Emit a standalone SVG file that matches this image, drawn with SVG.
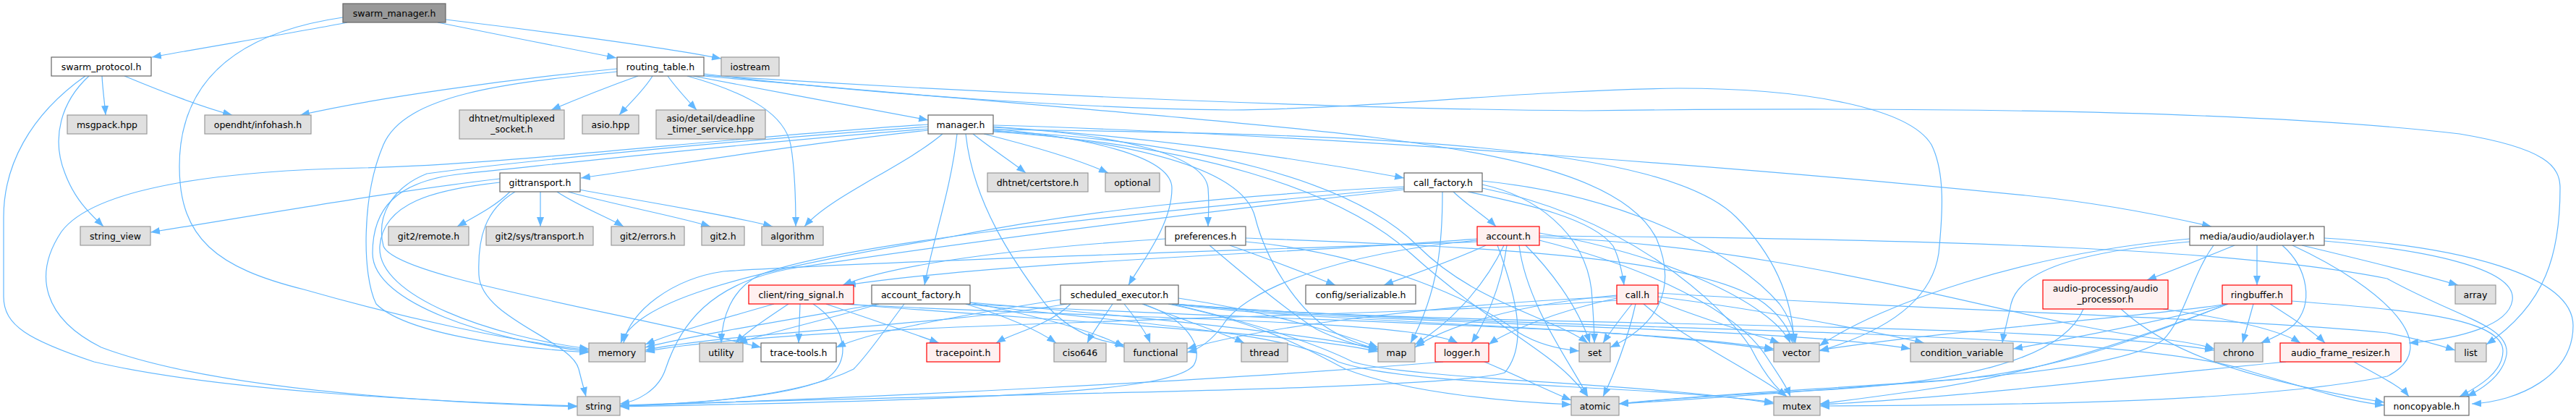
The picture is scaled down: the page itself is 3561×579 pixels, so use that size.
<svg xmlns="http://www.w3.org/2000/svg" width="3561" height="579" viewBox="0 0 3561 579">
<style>
.g rect{fill:#e0e0e0;stroke:#999999;stroke-width:1.2}
.w rect{fill:#ffffff;stroke:#666666;stroke-width:1.2}
.r rect{fill:#fff0f0;stroke:#ff0000;stroke-width:1.2}
.root rect{fill:#999999;stroke:#666666;stroke-width:1.2}
text{font-family:"DejaVu Sans","Liberation Sans",sans-serif;font-size:12.5px;text-anchor:middle;fill:#000000}
#edges path{fill:none;stroke:#63b8ff;stroke-width:1.2;marker-end:url(#ah)}
</style>
<defs>
<marker id="ah" markerWidth="13" markerHeight="10" refX="13" refY="5" orient="auto" markerUnits="userSpaceOnUse"><path d="M0,0 L13,5 L0,10 z" fill="#63b8ff"/></marker>
</defs>
<rect x="0" y="0" width="3561" height="579" fill="#ffffff"/>
<g id="edges">
<path d="M480,31 C420,43 280,66 210,79"/>
<path d="M605,31 C660,42 790,68 852,80"/>
<path d="M616,27 C700,37 900,62 997,81"/>
<path d="M474,24 C330,45 248,110 248,230 C248,330 300,370 420,400 C560,440 700,470 814,484"/>
<path d="M141,105 C142,125 145,145 146,159"/>
<path d="M172,105 C220,125 280,148 321,159"/>
<path d="M123,105 C85,140 70,190 90,240 C105,280 130,300 143,313"/>
<path d="M118,105 C40,160 5,230 5,300 L5,410 C5,450 40,470 130,500 C300,540 600,555 798,561"/>
<path d="M882,105 C840,120 795,138 762,152"/>
<path d="M902,105 C890,125 868,145 856,159"/>
<path d="M923,105 C935,122 950,138 963,152"/>
<path d="M853,95 C700,110 520,135 415,159"/>
<path d="M853,99 C700,115 560,130 530,200 C500,270 500,380 520,420 C560,460 700,480 814,487"/>
<path d="M958,105 C1060,125 1200,150 1283,166"/>
<path d="M950,105 C1040,130 1085,160 1093,200 C1100,240 1100,290 1100,313"/>
<path d="M973,102 C1200,130 1500,150 1700,152 C1900,150 2100,125 2320,122 C2500,122 2640,150 2670,200 C2690,240 2685,300 2680,350 C2670,420 2600,460 2515,485"/>
<path d="M973,104 C1300,125 1800,150 2190,153 C2600,148 3100,150 3400,185 C3520,205 3539,230 3539,260 C3539,350 3520,420 3437,476"/>
<path d="M973,105 C1300,135 1700,165 1900,190 C2100,215 2250,250 2290,330 C2320,400 2290,450 2226,480"/>
<path d="M1283,180 C1100,200 950,225 803,246"/>
<path d="M1323,185 C1315,260 1290,330 1278,394"/>
<path d="M1303,185 C1250,230 1150,270 1112,313"/>
<path d="M1345,185 C1370,205 1400,225 1418,239"/>
<path d="M1360,185 C1420,200 1490,220 1532,239"/>
<path d="M1373,178 C1500,190 1620,215 1620,260 C1620,310 1580,360 1560,394"/>
<path d="M1373,176 C1550,185 1665,215 1670,260 C1672,285 1670,300 1670,313"/>
<path d="M1373,180 C1600,200 1720,240 1735,300 C1750,360 1790,420 1830,450 C1860,470 1885,478 1905,482"/>
<path d="M1373,175 C1600,190 1800,220 1941,246"/>
<path d="M1373,173 C1800,185 2400,230 2800,270 C2900,280 3000,300 3057,313"/>
<path d="M1335,185 C1345,280 1400,360 1445,420 C1480,460 1520,472 1555,477"/>
<path d="M1373,182 C1650,200 1850,260 1950,350 C2050,440 2130,480 2170,520 C2185,535 2190,542 2195,548"/>
<path d="M1373,181 C1660,195 1870,250 1960,340 C2040,420 2150,440 2195,474"/>
<path d="M1373,179 C1900,185 2300,200 2400,300 C2460,360 2478,420 2480,474"/>
<path d="M1283,175 C1000,195 700,225 590,240 C540,260 520,300 530,340 C545,380 800,420 1052,480"/>
<path d="M1283,172 C1000,190 700,228 500,232 C300,236 130,260 85,320 C45,380 60,440 140,480 C300,540 600,556 798,562"/>
<path d="M1283,178 C1000,200 760,228 640,240 C545,250 515,290 515,350 C515,420 680,470 814,486"/>
<path d="M705,265 C685,285 655,300 632,313"/>
<path d="M747,265 L747,313"/>
<path d="M770,265 C800,285 840,300 862,313"/>
<path d="M785,265 C850,283 940,300 982,313"/>
<path d="M800,262 C900,280 1010,298 1068,313"/>
<path d="M691,247 C560,262 400,290 208,321"/>
<path d="M691,252 C600,262 530,280 525,340 C520,410 680,465 814,482"/>
<path d="M712,265 C670,290 660,330 662,380 C665,440 790,470 800,510 C805,530 808,540 810,548"/>
<path d="M2029,265 C2100,280 2200,300 2230,340 C2240,360 2243,380 2245,394"/>
<path d="M2009,265 C2030,285 2055,300 2068,313"/>
<path d="M1994,265 C1994,330 1990,400 1950,474"/>
<path d="M1941,258 C1700,270 1500,290 1300,330 C1000,380 880,420 858,474"/>
<path d="M1941,262 C1600,300 1300,340 1100,370 C980,390 940,450 920,510 C910,540 880,555 857,558"/>
<path d="M1941,260 C1500,300 1150,340 1050,380 C1010,400 998,440 997,474"/>
<path d="M2049,255 C2120,270 2190,320 2200,400 C2203,440 2204,460 2204,474"/>
<path d="M2049,250 C2250,270 2400,350 2460,420 C2475,440 2480,460 2482,474"/>
<path d="M2049,260 C2250,300 2380,420 2420,480 C2440,520 2460,540 2470,548"/>
<path d="M1700,339 C1760,360 1810,380 1846,394"/>
<path d="M1611,330 C1450,340 1250,360 1165,394"/>
<path d="M1672,339 C1720,380 1780,430 1820,455 C1850,470 1880,478 1905,484"/>
<path d="M1722,334 C1900,350 2050,420 2100,460 C2130,478 2160,483 2183,485"/>
<path d="M1722,329 C2000,340 2350,350 2440,420 C2465,440 2475,460 2478,474"/>
<path d="M1538,420 C1525,440 1510,460 1503,474"/>
<path d="M1554,420 C1570,440 1585,460 1590,474"/>
<path d="M1579,420 C1630,440 1690,460 1720,474"/>
<path d="M1629,412 C1750,430 1850,460 1905,480"/>
<path d="M1620,420 C1800,445 2250,450 2452,484"/>
<path d="M1620,420 C1750,450 1830,480 1870,500 C1950,525 2300,530 2452,558"/>
<path d="M1625,420 C1900,450 2450,450 2641,482"/>
<path d="M1625,420 C2000,455 2800,440 3061,484"/>
<path d="M1615,420 C1760,450 1820,490 1860,510 C1950,545 2100,556 2172,559"/>
<path d="M1625,420 C2100,460 2900,450 3100,510 C3200,540 3250,555 3296,560"/>
<path d="M1475,420 C1300,450 1000,460 892,484"/>
<path d="M1580,420 C1640,440 1665,480 1650,505 C1620,540 1400,552 857,562"/>
<path d="M1480,420 C1450,450 1400,460 1377,474"/>
<path d="M1466,414 C1300,440 1200,460 1156,480"/>
<path d="M1250,420 C1220,460 1200,490 1180,510 C1100,550 950,558 857,561"/>
<path d="M1341,418 C1550,435 1800,460 1905,482"/>
<path d="M1215,420 C1100,440 950,465 892,480"/>
<path d="M1335,420 C1600,450 1780,460 1850,500 C1950,535 2250,530 2452,556"/>
<path d="M1335,420 C1800,445 2250,450 2452,482"/>
<path d="M1215,420 C1150,440 1060,460 1020,474"/>
<path d="M1341,418 C1450,440 1520,460 1554,480"/>
<path d="M1335,420 C1400,440 1440,460 1460,474"/>
<path d="M1070,420 C1000,440 930,460 892,476"/>
<path d="M1090,420 C1060,440 1030,460 1017,474"/>
<path d="M1106,420 L1104,474"/>
<path d="M1124,420 C1170,450 1180,500 1140,525 C1080,550 950,558 857,561"/>
<path d="M1142,420 C1200,440 1260,460 1298,474"/>
<path d="M1170,420 C1400,440 1800,460 1905,486"/>
<path d="M1165,420 C1500,440 1950,440 2015,474"/>
<path d="M2054,339 C2010,360 1950,380 1913,394"/>
<path d="M2042,330 C1800,350 1400,360 1170,394"/>
<path d="M2079,339 C2050,400 2000,450 1956,476"/>
<path d="M2083,339 C2075,400 2050,450 2034,474"/>
<path d="M2042,332 C1850,350 1720,400 1690,450 C1675,470 1660,482 1641,487"/>
<path d="M2070,339 C2100,420 2110,480 2080,515 C2000,540 1300,545 857,560"/>
<path d="M2128,322 C2300,350 2450,420 2475,474"/>
<path d="M2042,334 C1600,350 1200,362 1000,375 C930,385 870,430 862,474"/>
<path d="M2109,339 C2140,370 2180,420 2198,474"/>
<path d="M2100,339 C2110,420 2170,500 2195,548"/>
<path d="M2128,332 C2280,370 2400,430 2440,490 C2460,520 2470,535 2475,548"/>
<path d="M2128,326 C2700,330 3100,345 3300,385 C3400,440 3470,450 3465,490 C3460,520 3430,538 3410,548"/>
<path d="M2128,328 C2500,340 2800,450 3000,470 C3030,474 3045,477 3061,482"/>
<path d="M2256,420 C2240,440 2225,460 2216,474"/>
<path d="M2261,420 C2250,470 2230,520 2216,548"/>
<path d="M2272,420 C2330,470 2420,510 2470,548"/>
<path d="M2292,416 C2350,440 2420,460 2460,474"/>
<path d="M2292,410 C2450,430 2600,460 2660,474"/>
<path d="M2292,405 C2700,430 3100,440 3300,460 C3350,470 3375,478 3394,484"/>
<path d="M2235,408 C2100,420 2000,450 1956,480"/>
<path d="M2235,412 C2150,430 2080,460 2058,476"/>
<path d="M2235,415 C1900,440 1100,445 892,486"/>
<path d="M2235,410 C2000,420 1750,450 1641,482"/>
<path d="M3089,339 C3050,355 3000,375 2968,387"/>
<path d="M3120,339 L3120,394"/>
<path d="M3182,339 C3270,360 3350,380 3398,394"/>
<path d="M3155,339 C3190,370 3200,420 3170,450 C3150,465 3135,470 3125,474"/>
<path d="M3213,333 C3350,345 3480,370 3473,415 C3468,450 3400,468 3330,474"/>
<path d="M3213,329 C3400,340 3557,380 3557,450 C3557,520 3480,555 3417,558"/>
<path d="M3169,339 C3300,400 3380,480 3300,520 C3100,560 2700,560 2516,561"/>
<path d="M3060,339 C3030,380 3020,440 2990,470 C2900,530 2500,530 2238,558"/>
<path d="M3027,330 C2800,350 2600,420 2515,478"/>
<path d="M3027,334 C2850,350 2790,380 2780,420 C2775,445 2770,460 2768,474"/>
<path d="M3115,420 L3100,474"/>
<path d="M3138,420 C3170,440 3200,460 3214,474"/>
<path d="M3168,416 C3330,428 3460,440 3460,485 C3460,515 3425,535 3400,548"/>
<path d="M3080,420 C2950,470 2850,510 2700,525 C2500,540 2350,552 2238,558"/>
<path d="M3080,420 C2950,470 2800,520 2650,540 C2580,550 2540,555 2516,558"/>
<path d="M3080,420 C2980,445 2850,470 2783,482"/>
<path d="M3080,420 C2950,440 2700,455 2515,484"/>
<path d="M2932,427 C2990,480 3080,520 3296,556"/>
<path d="M2990,427 C3080,440 3150,455 3180,474"/>
<path d="M2880,427 C2850,500 2700,530 2500,540 C2400,545 2300,552 2238,558"/>
<path d="M3254,500 C3290,520 3320,535 3330,548"/>
<path d="M3160,500 C2900,525 2700,550 2516,559"/>
<path d="M1995,500 C1700,525 1200,550 857,561"/>
<path d="M2052,500 C2100,520 2140,540 2172,553"/>
</g>
<g id="n-swarm_manager" class="root"><rect x="474" y="5" width="142" height="26"/><text x="545" y="22.5">swarm_manager.h</text></g>
<g id="n-swarm_protocol" class="w"><rect x="71" y="79" width="138" height="26"/><text x="140" y="96.5">swarm_protocol.h</text></g>
<g id="n-routing_table" class="w"><rect x="853" y="79" width="120" height="26"/><text x="913" y="96.5">routing_table.h</text></g>
<g id="n-iostream" class="g"><rect x="997" y="79" width="80" height="26"/><text x="1037" y="96.5">iostream</text></g>
<g id="n-msgpack" class="g"><rect x="93" y="159" width="110" height="26"/><text x="148" y="176.5">msgpack.hpp</text></g>
<g id="n-infohash" class="g"><rect x="283" y="159" width="147" height="26"/><text x="356.5" y="176.5">opendht/infohash.h</text></g>
<g id="n-multiplexed" class="g"><rect x="635" y="152" width="145" height="40"/><text x="707.5" y="168">dhtnet/multiplexed</text><text x="707.5" y="183">_socket.h</text></g>
<g id="n-asio" class="g"><rect x="805" y="159" width="78" height="26"/><text x="844" y="176.5">asio.hpp</text></g>
<g id="n-deadline" class="g"><rect x="907" y="152" width="151" height="40"/><text x="982.5" y="168">asio/detail/deadline</text><text x="982.5" y="183">_timer_service.hpp</text></g>
<g id="n-manager" class="w"><rect x="1283" y="159" width="90" height="26"/><text x="1328" y="176.5">manager.h</text></g>
<g id="n-gittransport" class="w"><rect x="691" y="239" width="111" height="26"/><text x="746.5" y="256.5">gittransport.h</text></g>
<g id="n-certstore" class="g"><rect x="1365" y="239" width="139" height="26"/><text x="1434.5" y="256.5">dhtnet/certstore.h</text></g>
<g id="n-optional" class="g"><rect x="1528" y="239" width="75" height="26"/><text x="1565.5" y="256.5">optional</text></g>
<g id="n-call_factory" class="w"><rect x="1941" y="239" width="108" height="26"/><text x="1995" y="256.5">call_factory.h</text></g>
<g id="n-string_view" class="g"><rect x="111" y="313" width="97" height="26"/><text x="159.5" y="330.5">string_view</text></g>
<g id="n-git2remote" class="g"><rect x="537" y="313" width="111" height="26"/><text x="592.5" y="330.5">git2/remote.h</text></g>
<g id="n-git2systransport" class="g"><rect x="672" y="313" width="148" height="26"/><text x="746" y="330.5">git2/sys/transport.h</text></g>
<g id="n-git2errors" class="g"><rect x="845" y="313" width="101" height="26"/><text x="895.5" y="330.5">git2/errors.h</text></g>
<g id="n-git2" class="g"><rect x="970" y="313" width="59" height="26"/><text x="999.5" y="330.5">git2.h</text></g>
<g id="n-algorithm" class="g"><rect x="1053" y="313" width="85" height="26"/><text x="1095.5" y="330.5">algorithm</text></g>
<g id="n-preferences" class="w"><rect x="1611" y="313" width="111" height="26"/><text x="1666.5" y="330.5">preferences.h</text></g>
<g id="n-account" class="r"><rect x="2042" y="313" width="86" height="26"/><text x="2085" y="330.5">account.h</text></g>
<g id="n-audiolayer" class="w"><rect x="3027" y="313" width="186" height="26"/><text x="3120" y="330.5">media/audio/audiolayer.h</text></g>
<g id="n-ring_signal" class="r"><rect x="1035" y="394" width="145" height="26"/><text x="1107.5" y="411.5">client/ring_signal.h</text></g>
<g id="n-account_factory" class="w"><rect x="1205" y="394" width="136" height="26"/><text x="1273" y="411.5">account_factory.h</text></g>
<g id="n-scheduled_executor" class="w"><rect x="1466" y="394" width="163" height="26"/><text x="1547.5" y="411.5">scheduled_executor.h</text></g>
<g id="n-serializable" class="w"><rect x="1805" y="394" width="152" height="26"/><text x="1881" y="411.5">config/serializable.h</text></g>
<g id="n-call" class="r"><rect x="2235" y="394" width="57" height="26"/><text x="2263.5" y="411.5">call.h</text></g>
<g id="n-audio_processor" class="r"><rect x="2824" y="387" width="173" height="40"/><text x="2910.5" y="403">audio-processing/audio</text><text x="2910.5" y="418">_processor.h</text></g>
<g id="n-ringbuffer" class="r"><rect x="3072" y="394" width="96" height="26"/><text x="3120" y="411.5">ringbuffer.h</text></g>
<g id="n-array" class="g"><rect x="3394" y="394" width="56" height="26"/><text x="3422" y="411.5">array</text></g>
<g id="n-memory" class="g"><rect x="814" y="474" width="78" height="26"/><text x="853" y="491.5">memory</text></g>
<g id="n-utility" class="g"><rect x="967" y="474" width="60" height="26"/><text x="997" y="491.5">utility</text></g>
<g id="n-trace-tools" class="w"><rect x="1052" y="474" width="104" height="26"/><text x="1104" y="491.5">trace-tools.h</text></g>
<g id="n-tracepoint" class="r"><rect x="1281" y="474" width="101" height="26"/><text x="1331.5" y="491.5">tracepoint.h</text></g>
<g id="n-ciso646" class="g"><rect x="1457" y="474" width="72" height="26"/><text x="1493" y="491.5">ciso646</text></g>
<g id="n-functional" class="g"><rect x="1554" y="474" width="87" height="26"/><text x="1597.5" y="491.5">functional</text></g>
<g id="n-thread" class="g"><rect x="1716" y="474" width="64" height="26"/><text x="1748" y="491.5">thread</text></g>
<g id="n-map" class="g"><rect x="1905" y="474" width="51" height="26"/><text x="1930.5" y="491.5">map</text></g>
<g id="n-logger" class="r"><rect x="1984" y="474" width="74" height="26"/><text x="2021" y="491.5">logger.h</text></g>
<g id="n-set" class="g"><rect x="2183" y="474" width="43" height="26"/><text x="2204.5" y="491.5">set</text></g>
<g id="n-vector" class="g"><rect x="2452" y="474" width="63" height="26"/><text x="2483.5" y="491.5">vector</text></g>
<g id="n-condition_variable" class="g"><rect x="2641" y="474" width="142" height="26"/><text x="2712" y="491.5">condition_variable</text></g>
<g id="n-chrono" class="g"><rect x="3061" y="474" width="67" height="26"/><text x="3094.5" y="491.5">chrono</text></g>
<g id="n-audio_frame_resizer" class="r"><rect x="3152" y="474" width="167" height="26"/><text x="3235.5" y="491.5">audio_frame_resizer.h</text></g>
<g id="n-list" class="g"><rect x="3394" y="474" width="43" height="26"/><text x="3415.5" y="491.5">list</text></g>
<g id="n-string" class="g"><rect x="798" y="548" width="59" height="26"/><text x="827.5" y="565.5">string</text></g>
<g id="n-atomic" class="g"><rect x="2172" y="548" width="66" height="26"/><text x="2205" y="565.5">atomic</text></g>
<g id="n-mutex" class="g"><rect x="2452" y="548" width="64" height="26"/><text x="2484" y="565.5">mutex</text></g>
<g id="n-noncopyable" class="w"><rect x="3296" y="548" width="117" height="26"/><text x="3354.5" y="565.5">noncopyable.h</text></g>
</svg>
